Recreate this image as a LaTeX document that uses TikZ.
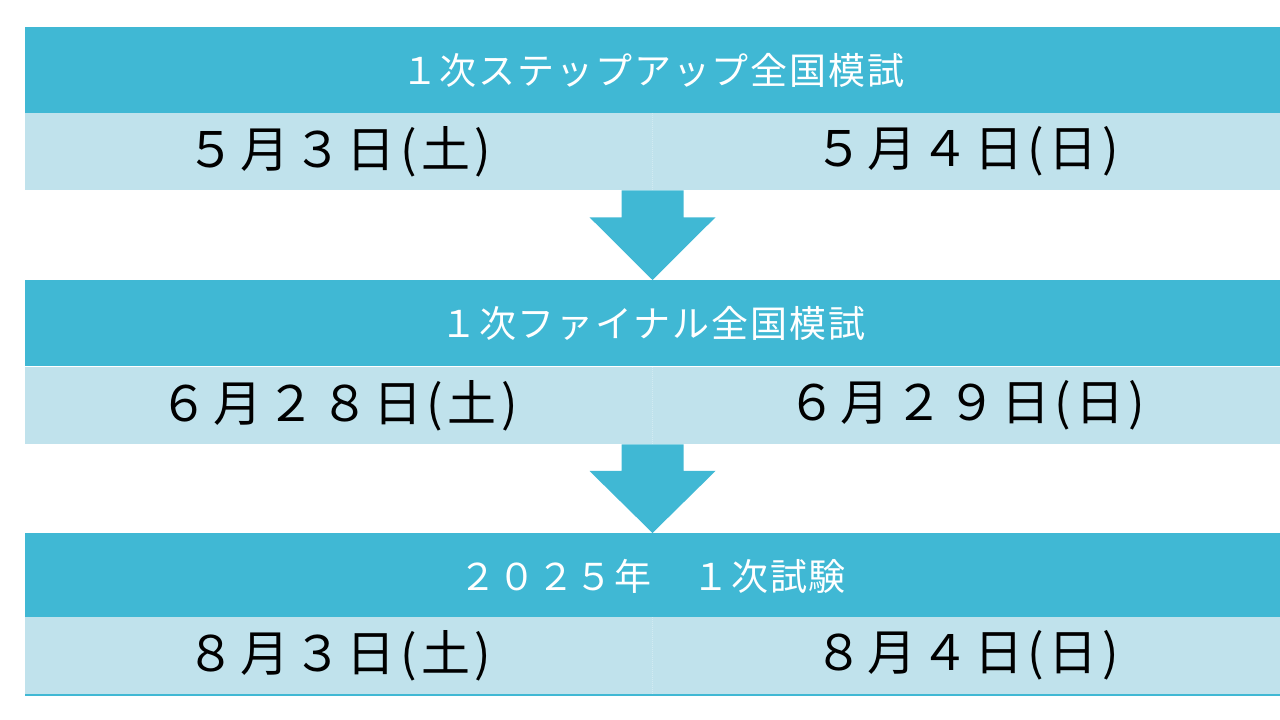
\documentclass[tikz,border=0pt]{standalone}
\usepackage{fontspec}
\usepackage{tikz}
\usetikzlibrary{positioning,calc}
\newfontfamily\jpfont[LetterSpace=5]{Noto Sans CJK JP}
\newfontfamily\jpdate[LetterSpace=9]{Noto Sans CJK JP}
\definecolor{bandteal}{HTML}{40B8D4}
\definecolor{celllight}{HTML}{C0E2EC}
\definecolor{cellline}{HTML}{D2EBF2}
\tikzset{title/.style={fill=bandteal,minimum width=1255bp,minimum height=86bp,inner sep=0pt,anchor=north west,text=white,font=\jpfont\fontsize{37bp}{40bp}\selectfont},
  day/.style={fill=celllight,minimum width=627.5bp,minimum height=77bp,inner sep=0pt,anchor=north west,text=black,font=\jpdate\fontsize{49bp}{52bp}\selectfont},
  blockarrow/.style={fill=bandteal,draw=none}}

\begin{document}
\begin{tikzpicture}[x=1bp,y=-1bp]
    \useasboundingbox (0,0) rectangle (1280,720);
    \node[title] (t1)at (25,27) {１次ステップアップ全国模試};
    \node[day] (a1)at (25,113) {５月３日(土)};
    \node[day] (b1)at (652.5,113) {５月４日(日)};

    \node[title] (t2)at (25,280) {１次ファイナル全国模試};
    \node[day] (a2)at (25,367) {６月２８日(土)};
    \node[day] (b2)at (652.5,367) {６月２９日(日)};

    \node[title] (t3)at (25,533) {２０２５年　１次試験};
    \node[day] (a3)at (25,617) {８月３日(土)};
    \node[day] (b3)at (652.5,617) {８月４日(日)};

    % cell dividers and bottom rule
    \foreach \r in {1,2,3}
        \draw [cellline,densely dotted,line width=1bp] (b\r.north west) -- (b\r.south west);
    \draw [bandteal,line width=2bp] ($(a3.south west)+(0,1)$) -- ($(b3.south east)+(0,1)$);

    % down arrows
    \foreach \u/\v in {b1/t2,b2/t3}
        \fill [blockarrow] ($(\u.south west)+(-31,0)$) -- ($(\u.south west)+(31,0)$)
            -- ($(\u.south west)!0.3!(\u.south west |- \v.north)+(31,0)$)
            -- ($(\u.south west)!0.3!(\u.south west |- \v.north)+(63,0)$)
            -- (\u.south west |- \v.north)
            -- ($(\u.south west)!0.3!(\u.south west |- \v.north)+(-63,0)$)
            -- ($(\u.south west)!0.3!(\u.south west |- \v.north)+(-31,0)$) -- cycle;
\end{tikzpicture}
\end{document}
